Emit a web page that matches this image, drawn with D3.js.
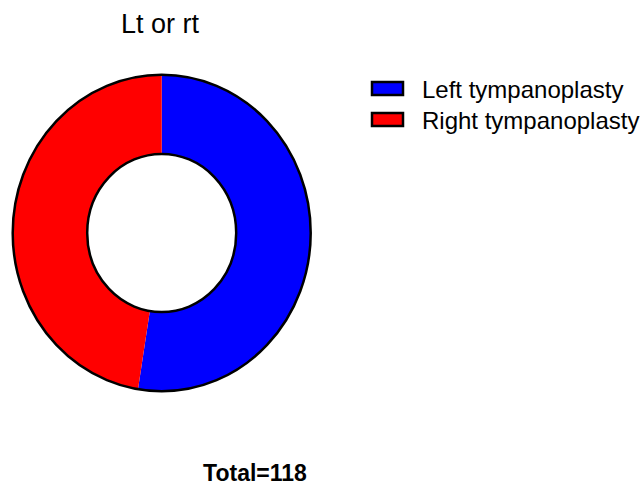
<!DOCTYPE html>
<html>
<head>
<meta charset="utf-8">
<script src="https://cdn.jsdelivr.net/npm/d3@7"></script>
<style>
  body { margin: 0; background: #fff; }
  text { font-family: Arial, "Liberation Sans", sans-serif; }
</style>
</head>
<body>
<svg id="chart" width="644" height="485"></svg>
<script>
/* chart data */
var categories = ['Left tympanoplasty', 'Right tympanoplasty'];
var counts = [62, 56];
var colors = ['#0000ff', '#ff0000'];
var title = 'Lt or rt';
var total = d3.sum(counts);

var svg = d3.select('#chart');

var cx = 161.7, cy = 233;
var rOut = 149, rIn = 74.5;
var yStretch = 1.062;

svg.append('text')
    .attr('x', 160)
    .attr('y', 33)
    .attr('text-anchor', 'middle')
    .attr('font-size', 27)
    .text(title);

var pie = d3.pie().sort(null).value(function(d) { return d; });
var arc = d3.arc().innerRadius(rIn).outerRadius(rOut);

var g = svg.append('g')
    .attr('transform', 'translate(' + cx + ',' + cy + ') scale(1,' + yStretch + ')');

g.selectAll('path.slice')
    .data(pie(counts))
    .enter().append('path')
    .attr('class', 'slice')
    .attr('d', arc)
    .attr('fill', function(d, i) { return colors[i]; });

/* outline only on outer and inner rims */
svg.selectAll('ellipse.rim')
    .data([rOut, rIn])
    .enter().append('ellipse')
    .attr('class', 'rim')
    .attr('cx', cx)
    .attr('cy', cy)
    .attr('rx', function(r) { return r; })
    .attr('ry', function(r) { return r * yStretch; })
    .attr('fill', 'none')
    .attr('stroke', '#000')
    .attr('stroke-width', 2.5);

/* legend */
var legend = svg.selectAll('g.legend')
    .data(categories)
    .enter().append('g')
    .attr('class', 'legend')
    .attr('transform', function(d, i) { return 'translate(372,' + (82 + i * 31) + ')'; });

legend.append('rect')
    .attr('width', 31)
    .attr('height', 13)
    .attr('fill', function(d, i) { return colors[i]; })
    .attr('stroke', '#000')
    .attr('stroke-width', 2.5);

legend.append('text')
    .attr('x', 50)
    .attr('y', 16)
    .attr('font-size', 24)
    .text(function(d) { return d; });

svg.append('text')
    .attr('x', 255)
    .attr('y', 481)
    .attr('text-anchor', 'middle')
    .attr('font-size', 23)
    .attr('font-weight', 'bold')
    .text('Total=' + total);
</script>
</body>
</html>
